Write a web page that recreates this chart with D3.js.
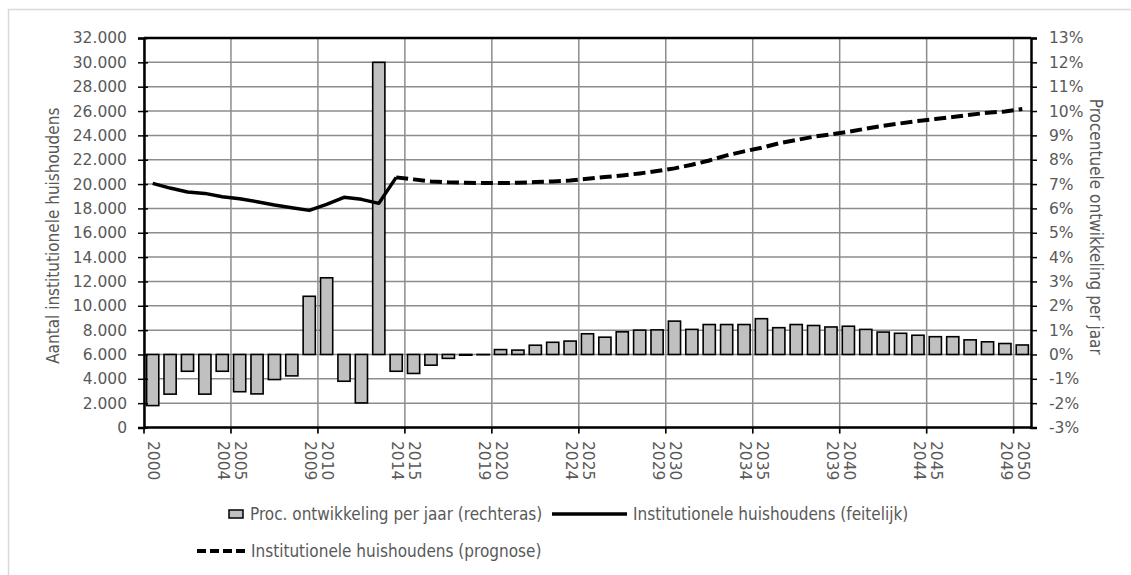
<!DOCTYPE html>
<html>
<head>
<meta charset="utf-8">
<script src="https://cdn.jsdelivr.net/npm/d3@7"></script>
<style>
  body { margin: 0; background: #fff; }
  svg { display: block; font-family: 'DejaVu Sans Condensed', 'DejaVu Sans', sans-serif; }
  text { fill: #595959; }
  .num { font-family: 'DejaVu Sans', sans-serif; font-size: 15.5px; }
</style>
</head>
<body>
<div class="container"></div>
<script>
// Data
const years = d3.range(2000, 2051);

const pctGrowth = [
  -2.1, -1.63, -0.69, -1.63, -0.69, -1.53, -1.62, -1.03, -0.88, 2.39,
  3.15, -1.1, -1.99, 12.0, -0.69, -0.78, -0.44, -0.16, -0.03, -0.01,
  0.2, 0.18, 0.38, 0.5, 0.55, 0.85, 0.71, 0.93, 1.0, 1.01,
  1.37, 1.03, 1.23, 1.23, 1.23, 1.47, 1.1, 1.23, 1.19, 1.13,
  1.16, 1.03, 0.92, 0.87, 0.79, 0.73, 0.73, 0.6, 0.52, 0.45,
  0.39,
];

const actualYears = d3.range(2000, 2015);
const actualHouseholds = [
  20058, 19671, 19343, 19234, 18960, 18795, 18549, 18275, 18055, 17838,
  18330, 18908, 18744, 18415, 20550,
];

const forecastYears = d3.range(2014, 2051);
const forecastHouseholds = [
  20550, 20385, 20220, 20140, 20110, 20080, 20080, 20110, 20160, 20220,
  20300, 20440, 20575, 20710, 20875, 21070, 21290, 21590, 21940, 22355,
  22685, 22985, 23340, 23615, 23890, 24080, 24300, 24545, 24790, 24985,
  25175, 25340, 25505, 25695, 25860, 25970, 26160,
];

// tick marks on the year axis every 5 years
const tickYears = d3.range(2000, 2051, 5);
const leftTicks = d3.range(0, 32001, 2000);
const rightTicks = d3.range(-3, 14, 1);

const legendItems = [
  { type: 'bar', label: 'Proc. ontwikkeling per jaar (rechteras)' },
  { type: 'line', label: 'Institutionele huishoudens (feitelijk)' },
  { type: 'dash', label: 'Institutionele huishoudens (prognose)' },
];

// Constants
const width = 1131;
const height = 575;
const plot = { left: 144, right: 1031, top: 38, bottom: 427.5 };
const gridColor = '#8c8c8c';

const nl = d3.formatLocale({ decimal: ',', thousands: '.', grouping: [3], currency: ['€', ''] });
const fmt = nl.format(',d');

const x = d3
  .scaleBand()
  .domain(years)
  .range([plot.left, plot.right])
  .paddingInner(0.3)
  .paddingOuter(0.15);
const edge = (yr) => x(yr) - (x.step() * x.paddingInner()) / 2;
const mid = (yr) => x(yr) + x.bandwidth() / 2;

const yLeft = d3.scaleLinear().domain([0, 32000]).range([plot.bottom, plot.top]);
const yRight = d3.scaleLinear().domain([-3, 13]).range([plot.bottom, plot.top]);

const svg = d3
  .select('.container')
  .append('svg')
  .attr('width', width)
  .attr('height', height);

// chart frame
svg
  .append('rect')
  .attr('x', 8.5)
  .attr('y', 9.5)
  .attr('width', width)
  .attr('height', height)
  .attr('fill', 'none')
  .attr('stroke', '#d9d9d9')
  .attr('stroke-width', 1.5);

// Gridlines
svg
  .append('g')
  .selectAll('line')
  .data(leftTicks)
  .enter()
  .append('line')
  .attr('x1', plot.left)
  .attr('x2', plot.right)
  .attr('y1', (d) => yLeft(d))
  .attr('y2', (d) => yLeft(d))
  .attr('stroke', gridColor)
  .attr('stroke-width', 1.5);

svg
  .append('g')
  .selectAll('line')
  .data(tickYears)
  .enter()
  .append('line')
  .attr('x1', (d) => edge(d))
  .attr('x2', (d) => edge(d))
  .attr('y1', plot.top)
  .attr('y2', plot.bottom + 6)
  .attr('stroke', gridColor)
  .attr('stroke-width', 1.5);

// Bars (right axis)
svg
  .append('g')
  .selectAll('rect')
  .data(years)
  .enter()
  .append('rect')
  .attr('x', (d) => x(d))
  .attr('width', x.bandwidth())
  .attr('y', (d, i) => Math.min(yRight(pctGrowth[i]), yRight(0)))
  .attr('height', (d, i) => Math.abs(yRight(pctGrowth[i]) - yRight(0)))
  .attr('fill', '#c0c0c0')
  .attr('stroke', '#000')
  .attr('stroke-width', 1.6);

// Lines (left axis)
const line = d3
  .line()
  .x((d) => mid(d[0]))
  .y((d) => yLeft(d[1]));

svg
  .append('path')
  .datum(d3.zip(actualYears, actualHouseholds))
  .attr('d', line)
  .attr('fill', 'none')
  .attr('stroke', '#000')
  .attr('stroke-width', 3.5)
  .attr('stroke-linejoin', 'round');

svg
  .append('path')
  .datum(d3.zip(forecastYears, forecastHouseholds))
  .attr('d', line)
  .attr('fill', 'none')
  .attr('stroke', '#000')
  .attr('stroke-width', 4)
  .attr('stroke-dasharray', '12,5');

// Axes
const leftAxis = svg
  .append('g')
  .attr('transform', `translate(${plot.left},0)`)
  .call(d3.axisLeft(yLeft).tickValues(leftTicks).tickFormat(fmt).tickSize(6).tickPadding(11));

const rightAxis = svg
  .append('g')
  .attr('transform', `translate(${plot.right},0)`)
  .call(d3.axisRight(yRight).tickValues(rightTicks).tickFormat((d) => d + '%').tickSize(6).tickPadding(12));

[leftAxis, rightAxis].forEach((g) => {
  g.attr('font-family', null).attr('font-size', null);
  g.select('.domain').attr('stroke', '#000').attr('stroke-width', 2.5);
  g.selectAll('.tick line').attr('stroke', '#000').attr('stroke-width', 1.5);
  g.selectAll('.tick text').attr('class', 'num').attr('fill', '#595959');
});
// left ticks cross the axis
leftAxis.selectAll('.tick line').attr('x1', 4);

// top and bottom plot edges
svg
  .append('line')
  .attr('x1', plot.left)
  .attr('x2', plot.right)
  .attr('y1', plot.top)
  .attr('y2', plot.top)
  .attr('stroke', '#000')
  .attr('stroke-width', 2.5);
svg
  .append('line')
  .attr('x1', plot.left)
  .attr('x2', plot.right)
  .attr('y1', plot.bottom)
  .attr('y2', plot.bottom)
  .attr('stroke', '#000')
  .attr('stroke-width', 2.5);
svg
  .append('g')
  .selectAll('line')
  .data(tickYears)
  .enter()
  .append('line')
  .attr('x1', (d) => edge(d))
  .attr('x2', (d) => edge(d))
  .attr('y1', plot.bottom)
  .attr('y2', plot.bottom + 6)
  .attr('stroke', '#000')
  .attr('stroke-width', 1.5);

// Year labels, rotated: first year of a block right of the tick, last year of previous block left
const yearLabels = [];
tickYears.forEach((t) => {
  yearLabels.push({ year: t, tick: t, dx: 9 });
  if (t > 2000) yearLabels.push({ year: t - 1, tick: t, dx: -8 });
});

svg
  .append('g')
  .selectAll('text')
  .data(yearLabels)
  .enter()
  .append('text')
  .attr('class', 'num')
  .attr('transform', (d) => `translate(${edge(d.tick) + d.dx},441) rotate(90)`)
  .attr('dominant-baseline', 'central')
  .text((d) => d.year);

// Axis titles
svg
  .append('text')
  .attr('transform', `translate(53,${(plot.top + plot.bottom) / 2 + 3}) rotate(-90)`)
  .attr('text-anchor', 'middle')
  .attr('dominant-baseline', 'central')
  .style('font-size', '17px')
  .text('Aantal institutionele huishoudens');

svg
  .append('text')
  .attr('transform', `translate(1096,${(plot.top + plot.bottom) / 2 - 6}) rotate(90)`)
  .attr('text-anchor', 'middle')
  .attr('dominant-baseline', 'central')
  .style('font-size', '17px')
  .text('Procentuele ontwikkeling per jaar');

// Legend
const legendPos = [
  { x: 229, y: 514, text: 21 },
  { x: 552, y: 514, text: 81 },
  { x: 197, y: 551, text: 54 },
];

const legend = svg
  .append('g')
  .selectAll('g')
  .data(legendItems)
  .enter()
  .append('g')
  .attr('transform', (d, i) => `translate(${legendPos[i].x},${legendPos[i].y})`);

legend
  .filter((d) => d.type === 'bar')
  .append('rect')
  .attr('x', 0)
  .attr('y', -4)
  .attr('width', 14)
  .attr('height', 8)
  .attr('fill', '#c0c0c0')
  .attr('stroke', '#000')
  .attr('stroke-width', 1.5);

legend
  .filter((d) => d.type !== 'bar')
  .append('line')
  .attr('x1', 0)
  .attr('x2', (d) => (d.type === 'line' ? 75 : 50))
  .attr('y1', 0)
  .attr('y2', 0)
  .attr('stroke', '#000')
  .attr('stroke-width', (d) => (d.type === 'line' ? 3.5 : 4))
  .attr('stroke-dasharray', (d) => (d.type === 'dash' ? '9,4' : null));

legend
  .append('text')
  .attr('x', (d, i) => legendPos[i].text)
  .attr('y', 0)
  .attr('dominant-baseline', 'central')
  .style('font-size', '17px')
  .text((d) => d.label);
</script>
</body>
</html>
